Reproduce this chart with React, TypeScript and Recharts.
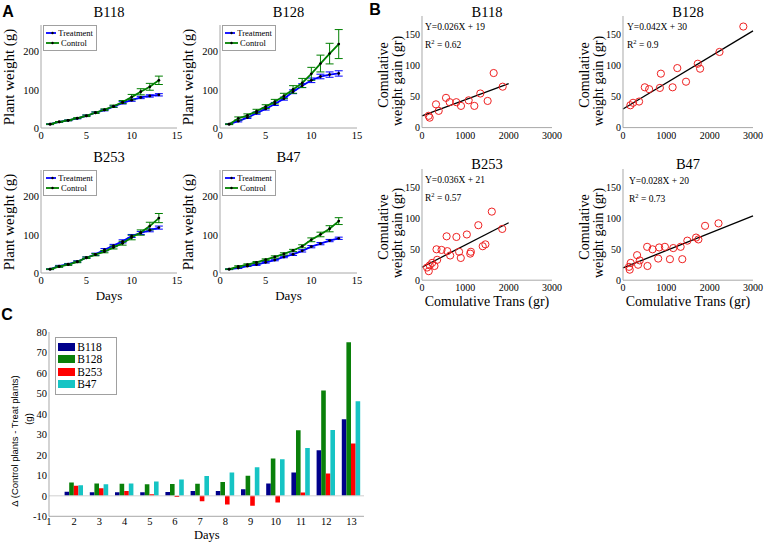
import React from 'react';
import {
  LineChart, Line, XAxis, YAxis, ErrorBar, Legend,
  ComposedChart, Scatter, BarChart, Bar, ReferenceLine,
} from 'recharts';

// ---------------- Panel A data (plant weight, g) ----------------
const days = [1, 2, 3, 4, 5, 6, 7, 8, 9, 10, 11, 12, 13];

const b118Treat = [10, 16, 20, 25, 32, 40, 47, 56, 66, 73, 80, 84, 87];
const b118TreatErr = [1, 1, 1, 1, 2, 2, 2, 2, 3, 3, 3, 3, 3];
const b118Ctrl = [10, 16, 20, 26, 32, 40, 48, 57, 68, 81, 95, 108, 125];
const b118CtrlErr = [1, 1, 1, 1, 2, 2, 2, 3, 4, 7, 8, 9, 11];

const b128Treat = [10, 18, 27, 39, 50, 63, 77, 95, 111, 125, 135, 140, 143];
const b128TreatErr = [1, 2, 2, 3, 3, 4, 4, 5, 5, 6, 6, 7, 7];
const b128Ctrl = [10, 25, 33, 44, 56, 69, 84, 101, 118, 142, 169, 195, 220];
const b128CtrlErr = [1, 4, 4, 5, 5, 6, 7, 10, 12, 17, 22, 27, 38];

const b253Treat = [10, 18, 23, 30, 40, 49, 61, 72, 83, 97, 105, 112, 119];
const b253TreatErr = [1, 2, 2, 2, 2, 3, 3, 3, 4, 4, 4, 4, 4];
const b253Ctrl = [10, 17, 22, 29, 40, 48, 56, 67, 78, 93, 106, 123, 144];
const b253CtrlErr = [1, 2, 2, 2, 2, 3, 3, 4, 5, 6, 7, 10, 12];

const b47Treat = [10, 13, 18, 22, 28, 34, 42, 49, 58, 69, 77, 85, 91];
const b47TreatErr = [1, 1, 1, 2, 2, 2, 2, 3, 3, 3, 3, 3, 3];
const b47Ctrl = [10, 17, 22, 28, 35, 42, 50, 59, 70, 87, 101, 116, 136];
const b47CtrlErr = [1, 2, 2, 2, 2, 3, 3, 3, 4, 5, 6, 8, 9];

const aXTicks = [0, 5, 10, 15];
const aYTicks = [0, 100, 200];
const aLegendOrder = ['Treatment', 'Control'];

// ---------------- Panel B data (cumulative trans vs weight gain) ----------------
const b118TransX = [154, 177, 323, 385, 554, 638, 792, 900, 1077, 1208, 1346, 1515, 1654, 1862];
const b118GainY = [19, 16, 37.5, 27, 48, 41, 41, 35, 44, 35, 55, 43, 88, 66];

const b128TransX = [170, 232, 371, 503, 603, 851, 874, 1145, 1253, 1454, 1725, 1779, 2227, 2777];
const b128GainY = [36, 40, 42, 65, 62, 64, 87, 65, 96, 74, 103, 95, 122, 163];

const b253TransX = [117, 156, 179, 233, 288, 350, 335, 451, 568, 584, 650, 794, 856, 895, 1035, 1113, 1128, 1300, 1401, 1463, 1611, 1852];
const b253GainY = [20.5, 14.6, 24, 28, 23, 33, 50, 49, 71, 47, 40, 70, 46, 36, 74, 43, 46, 89, 55, 58, 111, 83];

const b47TransX = [139, 155, 178, 325, 348, 387, 557, 565, 681, 812, 835, 967, 1083, 1160, 1330, 1368, 1485, 1686, 1740, 1894, 2204];
const b47GainY = [21.6, 17, 28, 40.5, 25, 32, 54, 23, 50, 35, 53, 54, 34, 52, 54, 34, 64, 69, 66, 88, 92];

const fitSlope = [0.026, 0.042, 0.036, 0.028];
const fitIntercept = [19, 30, 21, 20];
const fitR2 = [0.62, 0.9, 0.57, 0.73];
const fitXEnd = [2000, 3000, 2000, 3000];

const bXTicks = [0, 1000, 2000, 3000];
const bYTicks = [0, 50, 100, 150];

// ---------------- Panel C data (control - treat, g) ----------------
const barDays = [2, 3, 4, 5, 6, 7, 8, 9, 10, 11, 12, 13];
const dB118 = [2.0, 1.8, 1.8, 1.8, 1.9, 2.3, 2.4, 3.2, 6.0, 11.4, 22.3, 37.4];
const dB128 = [6.5, 6.0, 5.9, 5.7, 5.8, 5.9, 6.8, 9.8, 18.2, 32.0, 51.4, 75.0];
const dB253 = [4.9, 3.7, 2.4, 0.8, -0.6, -2.6, -4.2, -4.9, -3.3, 1.6, 10.9, 25.5];
const dB47 = [5.2, 5.7, 6.0, 7.0, 8.0, 9.7, 11.4, 14.0, 17.9, 23.4, 32.2, 46.2];
const cXTicks = [1, 2, 3, 4, 5, 6, 7, 8, 9, 10, 11, 12, 13];
const cYTicks = [-10, 0, 10, 20, 30, 40, 50, 60, 70, 80];
const cLegendOrder = ['B118', 'B128', 'B253', 'B47'];

const SERIF = '"Liberation Serif", "Times New Roman", serif';
const SANS = '"Liberation Sans", Arial, sans-serif';
const AXIS = '#a8a8a8';

type Rect = { l: number; t: number; r: number; b: number };

const tickStyle = (size: number) => ({ fontSize: size, fill: '#000', fontFamily: SERIF });

function Txt({ x, y, text, size, font = SERIF, bold = false, rotate = false }: any) {
  return (
    <div
      style={{
        position: 'absolute', left: x, top: y,
        transform: rotate ? 'translate(-50%,-50%) rotate(-90deg)' : 'translate(-50%,-50%)',
        whiteSpace: 'nowrap', fontSize: size, fontFamily: font, lineHeight: 1,
        fontWeight: bold ? 'bold' : 'normal', color: '#000',
      }}
    >
      {text}
    </div>
  );
}

const ordered = (payload: any[], order: string[]) =>
  [...(payload || [])].sort((a, b) => order.indexOf(a.value) - order.indexOf(b.value));

const growthLegend = (props: any) => {
  const payload = ordered(props.payload, aLegendOrder);
  return (
    <div style={{ border: '1px solid #a0a0a0', background: '#fff', padding: '2px 3px 2px 2px', width: 47 }}>
      {payload.map((item: any) => (
        <div key={item.value} style={{ display: 'flex', alignItems: 'center', height: 10, fontSize: 8.5, fontFamily: SERIF, lineHeight: '10px' }}>
          <svg width={13} height={6} style={{ display: 'block' }}>
            <line x1={0} y1={3} x2={13} y2={3} stroke={item.color} strokeWidth={1.8} />
            <circle cx={6.5} cy={3} r={1.2} fill="#000" />
          </svg>
          <span style={{ marginLeft: 2 }}>{item.value}</span>
        </div>
      ))}
    </div>
  );
};

function GrowthPanel({ treat, treatErr, ctrl, ctrlErr, plot }: any) {
  const data = days.map((d, i) => ({ day: d, treat: treat[i], treatErr: treatErr[i], ctrl: ctrl[i], ctrlErr: ctrlErr[i] }));
  const p: Rect = plot;
  const yW = 30, xH = 20, mT = 6, mR = 14;
  const width = p.r - p.l + yW + mR;
  const height = p.b - p.t + mT + xH;
  return (
    <div style={{ position: 'absolute', left: p.l - yW, top: p.t - mT }}>
      <LineChart width={width} height={height} data={data} margin={{ top: mT, right: mR, bottom: 0, left: 0 }}>
        <XAxis type="number" dataKey="day" domain={[0, 15]} ticks={aXTicks} height={xH}
          stroke={AXIS} tickLine={false} tickSize={0} tickMargin={4} tick={tickStyle(10.5)} interval={0} />
        <YAxis type="number" domain={[0, 270]} ticks={aYTicks} width={yW} allowDataOverflow
          stroke={AXIS} tickLine={false} tickSize={0} tickMargin={2} tick={tickStyle(10.5)} interval={0} />
        <Legend content={growthLegend} layout="vertical" align="center" verticalAlign="middle"
          wrapperStyle={{ left: yW + 2, top: mT, width: 'auto', height: 'auto' }} />
        <Line type="linear" dataKey="treat" name="Treatment" stroke="#0000ff" strokeWidth={1.8}
          dot={{ r: 1.4, fill: '#000', stroke: 'none' }} isAnimationActive={false}>
          <ErrorBar dataKey="treatErr" width={4} strokeWidth={1} stroke="#0000ff" direction="y" />
        </Line>
        <Line type="linear" dataKey="ctrl" name="Control" stroke="#007f00" strokeWidth={1.8}
          dot={{ r: 1.4, fill: '#000', stroke: 'none' }} isAnimationActive={false}>
          <ErrorBar dataKey="ctrlErr" width={4} strokeWidth={1} stroke="#007f00" direction="y" />
        </Line>
      </LineChart>
    </div>
  );
}

const circleShape = (props: any) => (
  <circle cx={props.cx} cy={props.cy} r={3.6} fill="none" stroke="#ee2020" strokeWidth={1} />
);

function TransPanel({ xs, ys, idx, plot }: any) {
  const p: Rect = plot;
  const pts = xs.map((x: number, i: number) => ({ x, y: ys[i] }));
  const m = fitSlope[idx], c = fitIntercept[idx], xe = fitXEnd[idx];
  const fit = [{ x: 0, y: c }, { x: xe, y: m * xe + c }];
  const yW = 30, xH = 20, mT = 6, mR = 16;
  const width = p.r - p.l + yW + mR;
  const height = p.b - p.t + mT + xH;
  return (
    <div style={{ position: 'absolute', left: p.l - yW, top: p.t - mT }}>
      <ComposedChart width={width} height={height} margin={{ top: mT, right: mR, bottom: 0, left: 0 }}>
        <XAxis type="number" dataKey="x" domain={[0, 3000]} ticks={bXTicks} height={xH}
          stroke={AXIS} tickLine={false} tickSize={0} tickMargin={4} tick={tickStyle(10)} interval={0} />
        <YAxis type="number" dataKey="y" domain={[0, 180]} ticks={bYTicks} width={yW} allowDataOverflow
          stroke={AXIS} tickLine={false} tickSize={0} tickMargin={2} tick={tickStyle(10)} interval={0} />
        <Scatter data={pts} dataKey="y" shape={circleShape} isAnimationActive={false} />
        <Line data={fit} dataKey="y" stroke="#000" strokeWidth={1.3} dot={false} isAnimationActive={false} />
      </ComposedChart>
    </div>
  );
}

const barLegend = (props: any) => {
  const payload = ordered(props.payload, cLegendOrder);
  return (
    <div style={{ border: '1px solid #a0a0a0', background: '#fff', padding: '3px 4px 3px 2px', width: 54 }}>
      {payload.map((item: any) => (
        <div key={item.value} style={{ display: 'flex', alignItems: 'center', height: 12.5, fontSize: 11.5, fontFamily: SERIF, lineHeight: '12px' }}>
          <div style={{ width: 17, height: 8, background: item.color }} />
          <span style={{ marginLeft: 2 }}>{item.value}</span>
        </div>
      ))}
    </div>
  );
};

function DeltaPanel({ plot }: any) {
  const p: Rect = plot;
  const data = barDays.map((d, i) => ({ day: d, b118: dB118[i], b128: dB128[i], b253: dB253[i], b47: dB47[i] }));
  const yW = 24, xH = 18, mT = 6, mR = 10;
  const width = p.r - p.l + yW + mR;
  const height = p.b - p.t + mT + xH;
  const bs = 4.6;
  return (
    <div style={{ position: 'absolute', left: p.l - yW, top: p.t - mT }}>
      <BarChart width={width} height={height} data={data} margin={{ top: mT, right: mR, bottom: 0, left: 0 }} barGap={0}>
        <XAxis type="number" dataKey="day" domain={[1, 13.5]} ticks={cXTicks} height={xH} allowDataOverflow
          stroke={AXIS} tickLine={false} tickSize={0} tickMargin={1} tick={tickStyle(10.5)} interval={0} />
        <YAxis type="number" domain={[-10, 80]} ticks={cYTicks} width={yW} allowDataOverflow
          stroke={AXIS} tickLine={false} tickSize={0} tickMargin={2} tick={tickStyle(10.5)} interval={0} />
        <ReferenceLine y={0} stroke="#d0d0d0" strokeWidth={1} />
        <Legend content={barLegend} layout="vertical" align="center" verticalAlign="middle"
          wrapperStyle={{ left: yW + 6, top: mT + 5, width: 'auto', height: 'auto' }} />
        <Bar dataKey="b118" name="B118" fill="#00008b" barSize={bs} isAnimationActive={false} />
        <Bar dataKey="b128" name="B128" fill="#0a800a" barSize={bs} isAnimationActive={false} />
        <Bar dataKey="b253" name="B253" fill="#ff0000" barSize={bs} isAnimationActive={false} />
        <Bar dataKey="b47" name="B47" fill="#16c4c4" barSize={bs} isAnimationActive={false} />
      </BarChart>
    </div>
  );
}

const aPlots: Rect[] = [
  { l: 41, t: 25, r: 177, b: 128 },
  { l: 220, t: 25, r: 357, b: 128 },
  { l: 41, t: 170, r: 177, b: 273 },
  { l: 220, t: 170, r: 357, b: 273 },
];
const bPlots: Rect[] = [
  { l: 422, t: 16.4, r: 552, b: 128 },
  { l: 623, t: 16.4, r: 753, b: 128 },
  { l: 422, t: 168.8, r: 552, b: 280 },
  { l: 623, t: 168.8, r: 753, b: 280 },
];
const cPlot: Rect = { l: 49.3, t: 331.7, r: 364.3, b: 516 };

const aNames = ['B118', 'B128', 'B253', 'B47'];

export default function App() {
  const aSeries = [
    [b118Treat, b118TreatErr, b118Ctrl, b118CtrlErr],
    [b128Treat, b128TreatErr, b128Ctrl, b128CtrlErr],
    [b253Treat, b253TreatErr, b253Ctrl, b253CtrlErr],
    [b47Treat, b47TreatErr, b47Ctrl, b47CtrlErr],
  ];
  const bSeries = [
    [b118TransX, b118GainY],
    [b128TransX, b128GainY],
    [b253TransX, b253GainY],
    [b47TransX, b47GainY],
  ];
  const aTitleY = [12, 12, 157, 157];
  const bTitleY = [12, 12, 164, 164];
  const eqX = [425, 627, 425, 629];
  const eqY = [29, 29, 182, 183];

  return (
    <div style={{ position: 'absolute', left: 0, top: 0, width: 767, height: 542, background: '#fff', overflow: 'hidden', fontFamily: SERIF }}>
      {aSeries.map((s, i) => (
        <GrowthPanel key={'a' + i} treat={s[0]} treatErr={s[1]} ctrl={s[2]} ctrlErr={s[3]} plot={aPlots[i]} />
      ))}
      {bSeries.map((s, i) => (
        <TransPanel key={'b' + i} xs={s[0]} ys={s[1]} idx={i} plot={bPlots[i]} />
      ))}
      <DeltaPanel plot={cPlot} />

      {/* panel letters */}
      <Txt x={8} y={12} text="A" size={16} font={SANS} bold />
      <Txt x={375} y={10} text="B" size={16} font={SANS} bold />
      <Txt x={7} y={315} text="C" size={16} font={SANS} bold />

      {/* titles */}
      {aPlots.map((p, i) => (
        <Txt key={'at' + i} x={(p.l + p.r) / 2} y={aTitleY[i]} text={aNames[i]} size={14.5} />
      ))}
      {bPlots.map((p, i) => (
        <Txt key={'bt' + i} x={(p.l + p.r) / 2} y={bTitleY[i]} text={aNames[i]} size={14.5} />
      ))}

      {/* panel A axis labels */}
      {aPlots.map((p, i) => (
        <Txt key={'ay' + i} x={p.l - 32} y={(p.t + p.b) / 2} text="Plant weight (g)" size={15} rotate />
      ))}
      <Txt x={(aPlots[2].l + aPlots[2].r) / 2} y={295} text="Days" size={13} />
      <Txt x={(aPlots[3].l + aPlots[3].r) / 2} y={295} text="Days" size={13} />

      {/* panel B axis labels */}
      {bPlots.map((p, i) => (
        <React.Fragment key={'by' + i}>
          <Txt x={p.l - 38} y={(p.t + p.b) / 2 + 3} text="Comulative" size={14} rotate />
          <Txt x={p.l - 24} y={(p.t + p.b) / 2 + 9} text="weight gain (gr)" size={14} rotate />
        </React.Fragment>
      ))}
      <Txt x={(bPlots[2].l + bPlots[2].r) / 2} y={302} text="Comulative Trans (gr)" size={14} />
      <Txt x={(bPlots[3].l + bPlots[3].r) / 2} y={302} text="Comulative Trans (gr)" size={14} />

      {/* regression annotations */}
      {bPlots.map((p, i) => (
        <React.Fragment key={'eq' + i}>
          <div style={{ position: 'absolute', left: eqX[i], top: eqY[i] - 6, fontSize: 9.5, fontFamily: SERIF, whiteSpace: 'nowrap', lineHeight: 1 }}>
            {`Y=${fitSlope[i]}X + ${fitIntercept[i]}`}
          </div>
          <div style={{ position: 'absolute', left: eqX[i], top: eqY[i] + 10, fontSize: 9.5, fontFamily: SERIF, whiteSpace: 'nowrap', lineHeight: 1 }}>
            R<sup style={{ fontSize: 6.5 }}>2</sup>{` = ${fitR2[i]}`}
          </div>
        </React.Fragment>
      ))}

      {/* panel C labels */}
      <Txt x={15} y={441} text="Δ (Control plants - Treat plants)" size={9.5} font={SANS} rotate />
      <Txt x={29} y={419} text="(g)" size={9.5} font={SANS} rotate />
      <Txt x={(cPlot.l + cPlot.r) / 2} y={535} text="Days" size={12.5} />
    </div>
  );
}
